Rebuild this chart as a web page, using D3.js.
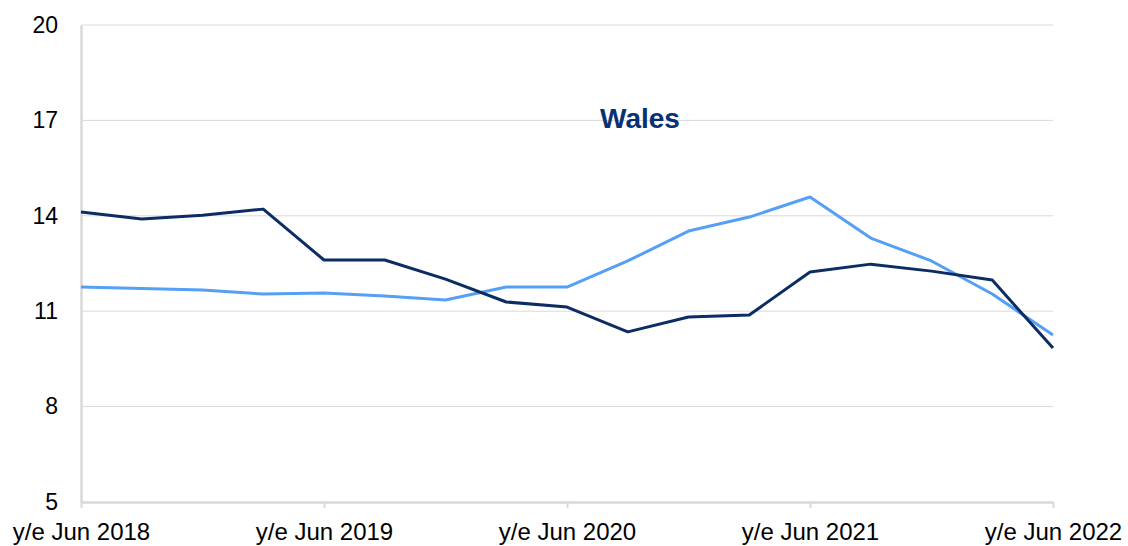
<!DOCTYPE html>
<html><head><meta charset="utf-8">
<script src="https://cdn.jsdelivr.net/npm/d3@7"></script>
<style>body{margin:0;background:#fff;}svg{display:block;}</style>
</head><body>
<svg id="c" width="1128" height="546"></svg>
<script>
const periods = ["y/e Jun 2018","y/e Sep 2018","y/e Dec 2018","y/e Mar 2019","y/e Jun 2019","y/e Sep 2019","y/e Dec 2019","y/e Mar 2020","y/e Jun 2020","y/e Sep 2020","y/e Dec 2020","y/e Mar 2021","y/e Jun 2021","y/e Sep 2021","y/e Dec 2021","y/e Mar 2022","y/e Jun 2022"];
const darkSeries = [14.12,13.90,14.02,14.21,12.61,12.61,12.01,11.29,11.13,10.35,10.82,10.88,12.23,12.48,12.26,11.98,9.84];
const lightSeries = [11.76,11.71,11.67,11.54,11.57,11.48,11.35,11.76,11.76,12.58,13.52,13.96,14.59,13.30,12.58,11.54,10.25];
const yTicks = [5,8,11,14,17,20];
const xTickLabels = ["y/e Jun 2018","y/e Jun 2019","y/e Jun 2020","y/e Jun 2021","y/e Jun 2022"];
const title = "Wales";

const svg = d3.select("#c");
const x = d3.scalePoint().domain(periods).range([81,1053]);
const y = d3.scaleLinear().domain([5,20]).range([502,25]);
const font = "'Liberation Sans', Arial, sans-serif";

// gridlines
svg.append("g").selectAll("line").data(yTicks.filter(d=>d>5)).join("line")
  .attr("x1",81).attr("x2",1053).attr("y1",d=>y(d)).attr("y2",d=>y(d))
  .attr("stroke","#d9d9d9").attr("stroke-width",1);

// y axis
const yAxis = svg.append("g").attr("transform","translate(81,0)")
  .call(d3.axisLeft(y).tickValues(yTicks).tickSize(0).tickPadding(23));
yAxis.select(".domain").attr("stroke","#d9d9d9").attr("stroke-width",2.5);
yAxis.selectAll("text").attr("font-family",font).attr("font-size",23).attr("fill","#000");

// x axis
const xAxis = svg.append("g").attr("transform","translate(0,502)")
  .call(d3.axisBottom(x).tickValues(xTickLabels).tickSize(6).tickSizeOuter(0).tickPadding(15));
xAxis.select(".domain").attr("stroke","#d9d9d9").attr("stroke-width",2.5);
xAxis.selectAll(".tick line").attr("stroke","#d9d9d9").attr("stroke-width",2);
xAxis.selectAll("text").attr("font-family",font).attr("font-size",24).attr("fill","#000");

const line = d3.line().x((d,i)=>x(periods[i])).y(d=>y(d));
svg.append("path").datum(lightSeries).attr("d",line).attr("fill","none")
  .attr("stroke","#559ff5").attr("stroke-width",3).attr("stroke-linejoin","round");
svg.append("path").datum(darkSeries).attr("d",line).attr("fill","none")
  .attr("stroke","#0b2d63").attr("stroke-width",3).attr("stroke-linejoin","round");

svg.append("text").attr("x",640).attr("y",128).attr("text-anchor","middle")
  .attr("font-family",font).attr("font-weight","bold").attr("font-size",28)
  .attr("fill","#073173").text(title);
</script>
</body></html>
